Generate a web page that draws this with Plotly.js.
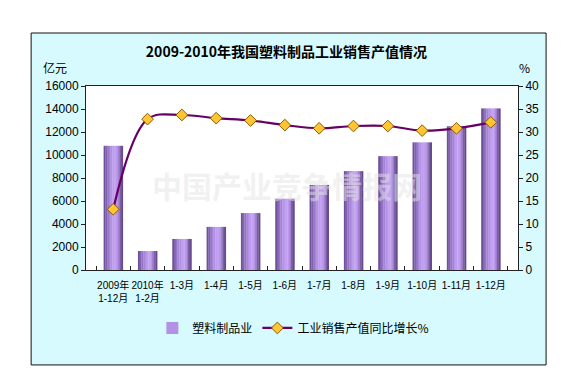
<!DOCTYPE html>
<html><head><meta charset="utf-8">
<script src="https://cdn.plot.ly/plotly-3.0.1.min.js"></script>
<style>html,body{margin:0;padding:0;background:#fff}#chart{width:573px;height:380px}</style>
</head><body><div id="chart"></div>
<script>
const categories = ["2009年<br>1-12月","2010年<br>1-2月","1-3月","1-4月","1-5月","1-6月","1-7月","1-8月","1-9月","1-10月","1-11月","1-12月"];
const salesValue = [10800, 1650, 2700, 3750, 4950, 6200, 7400, 8600, 9900, 11100, 12500, 14050];
const growthPct = [13.2, 32.8, 33.7, 33.0, 32.5, 31.5, 30.8, 31.3, 31.3, 30.3, 30.8, 32.1];
const leftTicks = [0, 2000, 4000, 6000, 8000, 10000, 12000, 14000, 16000];
const rightTicks = [0, 5, 10, 15, 20, 25, 30, 35, 40];

const stripColors = ["#6e519a","#8163b0","#9576c6","#a585d6","#b391e4","#bd9bee","#c3a1f3","#bb98ea","#a381d2","#7d5fa8","#654a8c"];
const barWidth = 0.56;
const sw = barWidth / stripColors.length;
const font = "'Noto Sans CJK SC', 'DejaVu Sans', sans-serif";
const tickFont = "'Liberation Sans', 'Noto Sans CJK SC', sans-serif";

const traces = [];
stripColors.forEach((c, i) => {
  traces.push({
    type: 'bar', x: categories, y: salesValue,
    width: sw * 1.15, offset: -barWidth/2 + i*sw,
    marker: {color: c, line: {width: 0}},
    name: '塑料制品业', showlegend: i === 4, legendgroup: 'bar',
    hoverinfo: 'skip', yaxis: 'y'
  });
});
traces.push({
  type: 'scatter', mode: 'lines+markers', x: categories, y: growthPct,
  yaxis: 'y2', name: '工业销售产值同比增长%',
  line: {color: '#660066', width: 2.2, shape: 'spline', smoothing: 1},
  marker: {symbol: 'diamond', size: 9, color: '#ffc533', line: {color: '#8a5a00', width: 1}}
});

const layout = {
  width: 573, height: 380,
  margin: {l: 86, r: 55, t: 86, b: 110},
  paper_bgcolor: '#ffffff', plot_bgcolor: 'rgba(0,0,0,0)',
  barmode: 'overlay',
  font: {family: font, size: 12, color: '#000'},
  title: {text: '<b>2009-2010年我国塑料制品工业销售产值情况</b>', x: 0.5, xanchor: 'center', y: 1 - 52/380, yanchor: 'middle', font: {size: 14, family: font, color: '#000'}},
  xaxis: {
    type: 'category', showline: true, linecolor: '#222', linewidth: 1, mirror: true,
    ticks: 'inside', ticklen: 4, tickcolor: '#222', tickson: 'boundaries', tickangle: 0,
    ticklabelstandoff: 6,
    tickfont: {size: 10, family: tickFont}, showgrid: false, zeroline: false, fixedrange: true
  },
  yaxis: {
    range: [0, 16000], tickvals: leftTicks, ticktext: leftTicks.map(String),
    showline: true, linecolor: '#222', linewidth: 1, mirror: true,
    ticks: 'outside', ticklen: 4, tickcolor: '#222', showgrid: false, zeroline: false,
    tickfont: {size: 12, family: "'Liberation Sans', Arial, sans-serif"}, fixedrange: true
  },
  yaxis2: {
    range: [0, 40], tickvals: rightTicks, overlaying: 'y', side: 'right',
    showline: true, linecolor: '#222', linewidth: 1,
    ticks: 'outside', ticklen: 4, tickcolor: '#222', showgrid: false, zeroline: false,
    tickfont: {size: 12, family: "'Liberation Sans', Arial, sans-serif"}, fixedrange: true
  },
  legend: {orientation: 'h', x: 0.48, xanchor: 'center', y: -0.315, yanchor: 'middle',
    bgcolor: 'rgba(0,0,0,0)', font: {size: 12, family: font}, itemwidth: 30, traceorder: 'normal'},
  shapes: [
    {type: 'rect', xref: 'paper', yref: 'paper', x0: -0.127, x1: 1.065, y0: -0.516, y1: 1.288,
     fillcolor: '#d6fafd', line: {color: '#111', width: 1}, layer: 'below'},
    {type: 'rect', xref: 'paper', yref: 'paper', x0: 0, x1: 1, y0: 0, y1: 1,
     fillcolor: '#ffffff', line: {width: 0}, layer: 'below'}
  ],
  annotations: [
    {text: '亿元', xref: 'paper', yref: 'paper', x: (55-86)/432, y: (270-67)/184, xanchor: 'center', yanchor: 'middle', showarrow: false, font: {size: 12, family: font}},
    {text: '%', xref: 'paper', yref: 'paper', x: (524-86)/432, y: (270-67)/184, xanchor: 'center', yanchor: 'middle', showarrow: false, font: {size: 12, family: font}},
    {text: '中国产业竞争情报网', xref: 'paper', yref: 'paper', x: (287-86)/432, y: (270-185)/184, xanchor: 'center', yanchor: 'middle', showarrow: false,
     font: {size: 30, family: font, color: 'rgba(228,228,228,0.5)', weight: 700}}
  ]
};
Plotly.newPlot('chart', traces, layout, {displayModeBar: false, staticPlot: true});
</script></body></html>
